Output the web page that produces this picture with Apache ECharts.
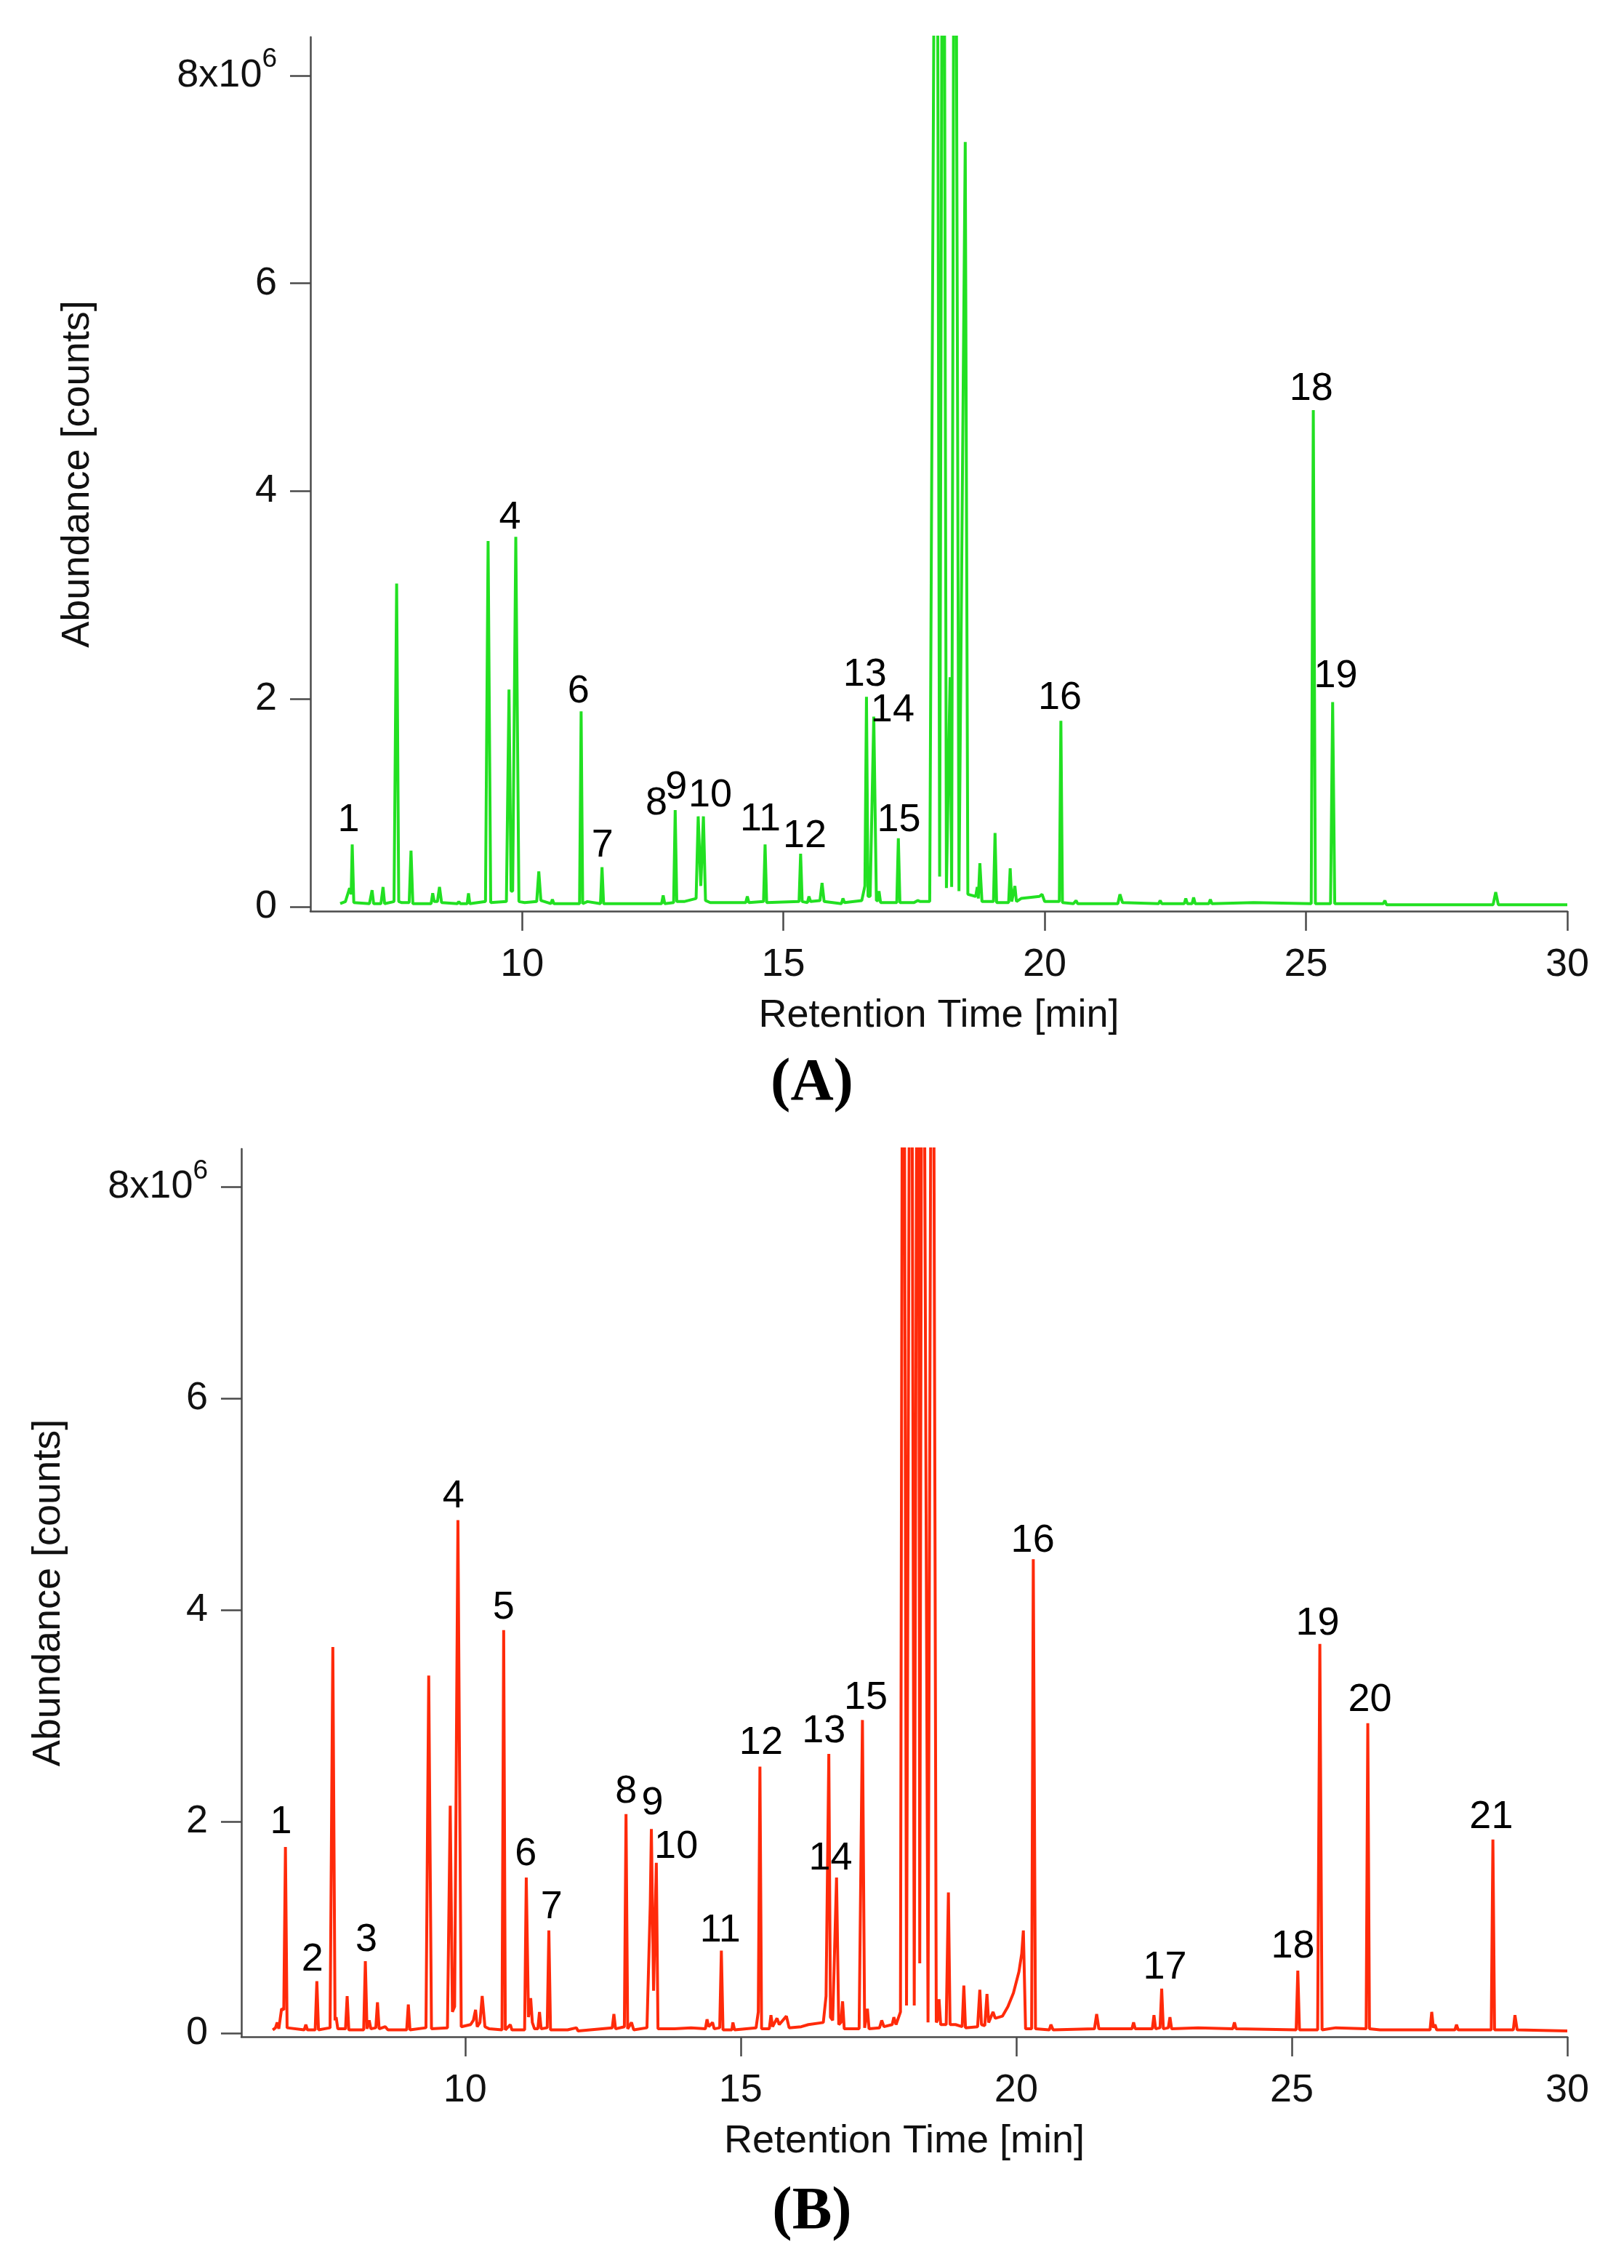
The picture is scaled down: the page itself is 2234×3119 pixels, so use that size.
<!DOCTYPE html>
<html>
<head>
<meta charset="utf-8">
<title>GC chromatograms</title>
<script src="https://cdn.jsdelivr.net/npm/echarts@6.0.0/dist/echarts.min.js"></script>
<style>
  html, body { margin: 0; padding: 0; background: #fff; }
  #chart { width: 2234px; height: 3119px; }
</style>
</head>
<body>
<div id="chart"></div>
<script>
// chromatogram A (green), [time in min, abundance in 1e6 counts]
var traceA = [
  [6.52,0.03],[6.62,0.05],[6.70,0.18],[6.73,0.12],[6.75,0.60],[6.78,0.04],
  [7.08,0.03],[7.13,0.16],[7.16,0.03],[7.30,0.03],[7.34,0.19],[7.37,0.03],
  [7.55,0.05],[7.60,3.11],[7.64,0.05],[7.70,0.04],[7.84,0.04],[7.875,0.54],[7.91,0.03],
  [8.26,0.03],[8.29,0.13],[8.32,0.05],[8.38,0.05],[8.42,0.19],[8.46,0.04],
  [8.76,0.03],[8.79,0.05],[8.82,0.03],[8.95,0.03],[8.975,0.13],[9.00,0.03],
  [9.30,0.05],[9.35,3.52],[9.40,0.04],[9.70,0.05],[9.75,2.09],[9.79,0.15],[9.82,0.15],[9.88,3.56],[9.94,0.05],
  [10.05,0.04],[10.28,0.05],[10.32,0.34],[10.36,0.06],[10.55,0.03],[10.58,0.07],[10.61,0.03],
  [11.10,0.03],[11.13,1.88],[11.16,0.03],[11.25,0.05],[11.50,0.03],[11.53,0.38],[11.56,0.03],[11.80,0.03],
  [12.67,0.03],[12.70,0.11],[12.73,0.03],[12.90,0.04],[12.93,0.93],[12.96,0.05],[13.10,0.05],
  [13.33,0.08],[13.37,0.87],[13.42,0.20],[13.47,0.87],[13.51,0.06],[13.60,0.04],
  [14.28,0.04],[14.31,0.10],[14.34,0.04],[14.62,0.05],[14.65,0.60],[14.68,0.04],
  [15.30,0.05],[15.33,0.51],[15.36,0.05],[15.46,0.04],[15.49,0.10],[15.52,0.05],[15.70,0.06],[15.74,0.23],[15.78,0.05],
  [16.11,0.03],[16.14,0.08],[16.17,0.04],[16.50,0.06],[16.56,0.20],[16.59,2.02],[16.62,0.10],[16.66,0.10],
  [16.73,1.83],[16.78,0.06],[16.81,0.06],[16.83,0.15],[16.86,0.04],
  [17.17,0.04],[17.20,0.66],[17.23,0.04],[17.50,0.04],[17.57,0.06],[17.62,0.05],[17.80,0.05],
  [17.93,14],[17.99,0.29],[18.06,14],[18.12,0.18],[18.19,2.21],[18.22,0.19],[18.28,14],[18.36,0.15],
  [18.48,7.36],[18.53,0.12],[18.68,0.10],[18.71,0.19],[18.73,0.08],[18.76,0.42],[18.80,0.05],
  [19.02,0.05],[19.05,0.71],[19.08,0.04],[19.31,0.04],[19.34,0.37],[19.37,0.05],[19.43,0.20],[19.46,0.05],
  [19.55,0.08],[19.90,0.10],[19.95,0.12],[20.00,0.05],
  [20.28,0.05],[20.31,1.79],[20.34,0.04],[20.55,0.03],[20.60,0.06],[20.63,0.03],
  [21.40,0.03],[21.44,0.12],[21.49,0.04],[22.18,0.03],[22.21,0.06],[22.24,0.03],
  [22.67,0.03],[22.70,0.08],[22.73,0.03],[22.82,0.03],[22.85,0.09],[22.88,0.03],
  [23.14,0.03],[23.17,0.07],[23.20,0.03],[24.00,0.04],
  [25.10,0.03],[25.14,4.78],[25.18,0.03],[25.47,0.03],[25.51,1.97],[25.55,0.03],
  [26.48,0.03],[26.51,0.06],[26.54,0.02],[28.58,0.02],[28.63,0.14],[28.68,0.02],[30.00,0.02]
];

// chromatogram B (red)
var traceB = [
  [6.51,0.03],[6.56,0.05],[6.59,0.10],[6.62,0.04],[6.67,0.23],[6.71,0.22],[6.74,1.76],[6.77,0.05],
  [7.08,0.03],[7.11,0.08],[7.14,0.03],[7.28,0.03],[7.31,0.49],[7.34,0.03],
  [7.55,0.05],[7.60,3.65],[7.64,0.12],[7.66,0.15],[7.69,0.04],[7.83,0.04],[7.86,0.35],[7.89,0.03],
  [8.16,0.03],[8.19,0.68],[8.22,0.04],[8.26,0.12],[8.29,0.04],[8.38,0.05],[8.41,0.29],[8.44,0.04],
  [8.55,0.06],[8.60,0.03],[8.94,0.03],[8.97,0.27],[9.00,0.03],
  [9.29,0.05],[9.34,3.38],[9.39,0.04],[9.68,0.05],[9.73,2.15],[9.77,0.20],[9.81,0.25],[9.87,4.85],[9.93,0.06],
  [10.10,0.08],[10.15,0.12],[10.19,0.22],[10.22,0.06],[10.27,0.10],[10.31,0.35],[10.36,0.06],[10.44,0.04],
  [10.67,0.03],[10.70,3.81],[10.73,0.03],[10.82,0.08],[10.85,0.03],
  [11.08,0.03],[11.11,1.47],[11.15,0.15],[11.19,0.33],[11.22,0.10],[11.26,0.04],[11.32,0.04],[11.35,0.20],[11.38,0.04],
  [11.49,0.05],[11.52,0.97],[11.55,0.03],[11.86,0.03],[12.02,0.05],[12.05,0.02],
  [12.67,0.05],[12.70,0.18],[12.73,0.04],[12.89,0.06],[12.92,2.07],[12.95,0.04],[13.02,0.10],[13.06,0.03],
  [13.30,0.05],[13.36,1.22],[13.38,1.93],[13.42,0.40],[13.47,1.61],[13.50,0.04],
  [13.80,0.04],[14.10,0.05],[14.36,0.04],[14.39,0.13],[14.42,0.06],[14.49,0.10],[14.52,0.04],
  [14.62,0.05],[14.65,0.78],[14.68,0.03],[14.84,0.03],[14.86,0.10],[14.89,0.03],
  [15.28,0.05],[15.32,0.20],[15.35,2.52],[15.38,0.04],[15.52,0.04],[15.55,0.17],[15.58,0.06],
  [15.66,0.14],[15.70,0.08],[15.83,0.16],[15.88,0.05],[16.10,0.06],[16.23,0.08],
  [16.50,0.10],[16.55,0.35],[16.60,2.64],[16.63,0.15],[16.67,0.12],[16.74,1.47],[16.78,0.08],
  [16.82,0.10],[16.85,0.30],[16.88,0.04],
  [17.15,0.04],[17.21,2.96],[17.25,0.05],[17.30,0.23],[17.33,0.04],[17.52,0.05],[17.56,0.12],[17.60,0.06],
  [17.75,0.08],[17.78,0.15],[17.82,0.08],[17.90,0.20],
  [17.95,14],[18.01,0.26],[18.09,14],[18.15,0.26],[18.22,14],[18.25,0.66],[18.30,14],[18.40,0.10],
  [18.48,14],[18.55,0.10],[18.57,0.12],[18.60,0.32],[18.63,0.08],[18.73,0.08],[18.77,1.33],[18.80,0.08],
  [18.90,0.08],[19.02,0.06],[19.05,0.45],[19.08,0.05],[19.30,0.06],[19.34,0.41],[19.37,0.08],
  [19.43,0.07],[19.47,0.37],[19.50,0.10],[19.58,0.20],[19.62,0.14],
  [19.75,0.16],[19.85,0.25],[19.95,0.38],[20.05,0.58],[20.10,0.75],[20.13,0.97],[20.17,0.04],
  [20.28,0.04],[20.31,4.48],[20.35,0.04],[20.60,0.03],[20.63,0.08],[20.67,0.03],
  [21.42,0.04],[21.46,0.18],[21.50,0.04],[22.10,0.04],[22.13,0.10],[22.16,0.04],
  [22.47,0.04],[22.50,0.17],[22.53,0.04],[22.61,0.05],[22.64,0.42],[22.67,0.04],[22.76,0.05],[22.79,0.15],[22.82,0.04],
  [23.30,0.05],[23.93,0.04],[23.96,0.10],[23.99,0.04],
  [25.08,0.03],[25.11,0.59],[25.14,0.03],[25.47,0.03],[25.51,3.68],[25.55,0.03],[25.80,0.05],
  [26.35,0.04],[26.38,2.93],[26.41,0.04],[26.60,0.03],
  [27.51,0.03],[27.54,0.20],[27.57,0.05],[27.60,0.08],[27.63,0.03],[27.96,0.03],[27.99,0.08],[28.02,0.03],
  [28.62,0.03],[28.65,1.83],[28.68,0.03],[29.02,0.03],[29.05,0.17],[29.09,0.03],[30.00,0.02]
];

// peak numbers and where their text sits (time, abundance)
var labelsA = ['1','4','6','7','8','9','10','11','12','13','14','15','16','18','19'];
var labelTimesA = [6.68, 9.77, 11.08, 11.54, 12.57, 12.95, 13.60, 14.56, 15.41, 16.56, 17.09, 17.21, 20.29, 25.10, 25.57];
var labelHeightsA = [0.83, 3.74, 2.07, 0.59, 0.99, 1.15, 1.07, 0.84, 0.68, 2.23, 1.89, 0.83, 2.01, 4.98, 2.22];

var labelsB = ['1','2','3','4','5','6','7','8','9','10','11','12','13','14','15','16','17','18','19','20','21'];
var labelTimesB = [6.66, 7.23, 8.21, 9.79, 10.70, 11.10, 11.57, 12.92, 13.40, 13.83, 14.63, 15.37, 16.51, 16.63, 17.27, 20.30, 22.70, 25.02, 25.47, 26.42, 28.62];
var labelHeightsB = [1.99, 0.69, 0.88, 5.07, 4.02, 1.69, 1.19, 2.28, 2.17, 1.76, 0.97, 2.74, 2.85, 1.65, 3.17, 4.65, 0.62, 0.82, 3.87, 3.15, 2.04];

var xTicks = [10, 15, 20, 25, 30];
var yTicks = [0, 2, 4, 6, 8];

var FONT = 'Liberation Sans, Arial, sans-serif';
var AXIS_COLOR = '#4a4a4a';
var FS = 54;

function labelPoints(names, times, heights) {
    var out = [];
    for (var i = 0; i < names.length; i++) {
        out.push({ name: names[i], value: [times[i], heights[i]] });
    }
    return out;
}

function xAxisFor(grid, min) {
    return {
        type: 'value', gridIndex: grid, min: min, max: 30,
        name: 'Retention Time [min]', nameLocation: 'middle', nameGap: 117,
        nameTextStyle: { fontSize: FS, color: '#111', fontFamily: FONT },
        axisLine: { onZero: false, lineStyle: { color: AXIS_COLOR, width: 2.5 } },
        axisTick: { length: 27, customValues: xTicks, lineStyle: { color: AXIS_COLOR, width: 2.5 } },
        axisLabel: { customValues: xTicks, margin: 47, fontSize: FS, color: '#111', fontFamily: FONT },
        splitLine: { show: false }
    };
}

function yAxisFor(grid, min, max, gap) {
    return {
        type: 'value', gridIndex: grid, min: min, max: max,
        name: 'Abundance [counts]', nameLocation: 'middle', nameGap: gap,
        nameTextStyle: { fontSize: FS, color: '#111', fontFamily: FONT },
        axisLine: { onZero: false, lineStyle: { color: AXIS_COLOR, width: 2.5 } },
        axisTick: { length: 28, customValues: yTicks, lineStyle: { color: AXIS_COLOR, width: 2.5 } },
        axisLabel: {
            customValues: yTicks, margin: 46, color: '#111', fontFamily: FONT, fontSize: FS,
            formatter: function (v) {
                return v === 8 ? '{m|8x10}{s|6}' : '{m|' + v + '}';
            },
            rich: {
                m: { fontSize: FS, fontFamily: FONT, color: '#111' },
                s: { fontSize: 37, fontFamily: FONT, color: '#111', padding: [0, 0, 44, 0] }
            }
        },
        splitLine: { show: false }
    };
}

function labelSeries(xi, data) {
    return {
        type: 'scatter', xAxisIndex: xi, yAxisIndex: xi, data: data,
        symbolSize: 0, itemStyle: { color: '#000' }, z: 5, silent: true,
        label: {
            show: true, position: 'inside', formatter: '{b}',
            fontSize: FS, color: '#000', opacity: 1, textBorderWidth: 0, fontFamily: FONT
        }
    };
}

var chart = echarts.init(document.getElementById('chart'), null, { renderer: 'canvas' });
var option = {
    backgroundColor: '#fff',
    animation: false,
    title: [
        { text: '(A)', left: 'center', top: 1445,
          textStyle: { fontSize: 82, fontWeight: 'bold', fontFamily: 'Liberation Serif, Times New Roman, serif', color: '#000' } },
        { text: '(B)', left: 'center', top: 2997,
          textStyle: { fontSize: 82, fontWeight: 'bold', fontFamily: 'Liberation Serif, Times New Roman, serif', color: '#000' } }
    ],
    grid: [
        { left: 427, top: 51, width: 1729, height: 1202 },
        { left: 332, top: 1580, width: 1824, height: 1221 }
    ],
    xAxis: [xAxisFor(0, 5.95), xAxisFor(1, 5.94)],
    yAxis: [yAxisFor(0, -0.042, 8.37, 293), yAxisFor(1, -0.035, 8.36, 238)],
    series: [
        { type: 'line', xAxisIndex: 0, yAxisIndex: 0, data: traceA, showSymbol: false, clip: true,
          lineStyle: { color: '#22e022', width: 4 } },
        { type: 'line', xAxisIndex: 1, yAxisIndex: 1, data: traceB, showSymbol: false, clip: true,
          lineStyle: { color: '#ff2a0a', width: 4 } },
        labelSeries(0, labelPoints(labelsA, labelTimesA, labelHeightsA)),
        labelSeries(1, labelPoints(labelsB, labelTimesB, labelHeightsB))
    ]
};
chart.setOption(option);
</script>
</body>
</html>
